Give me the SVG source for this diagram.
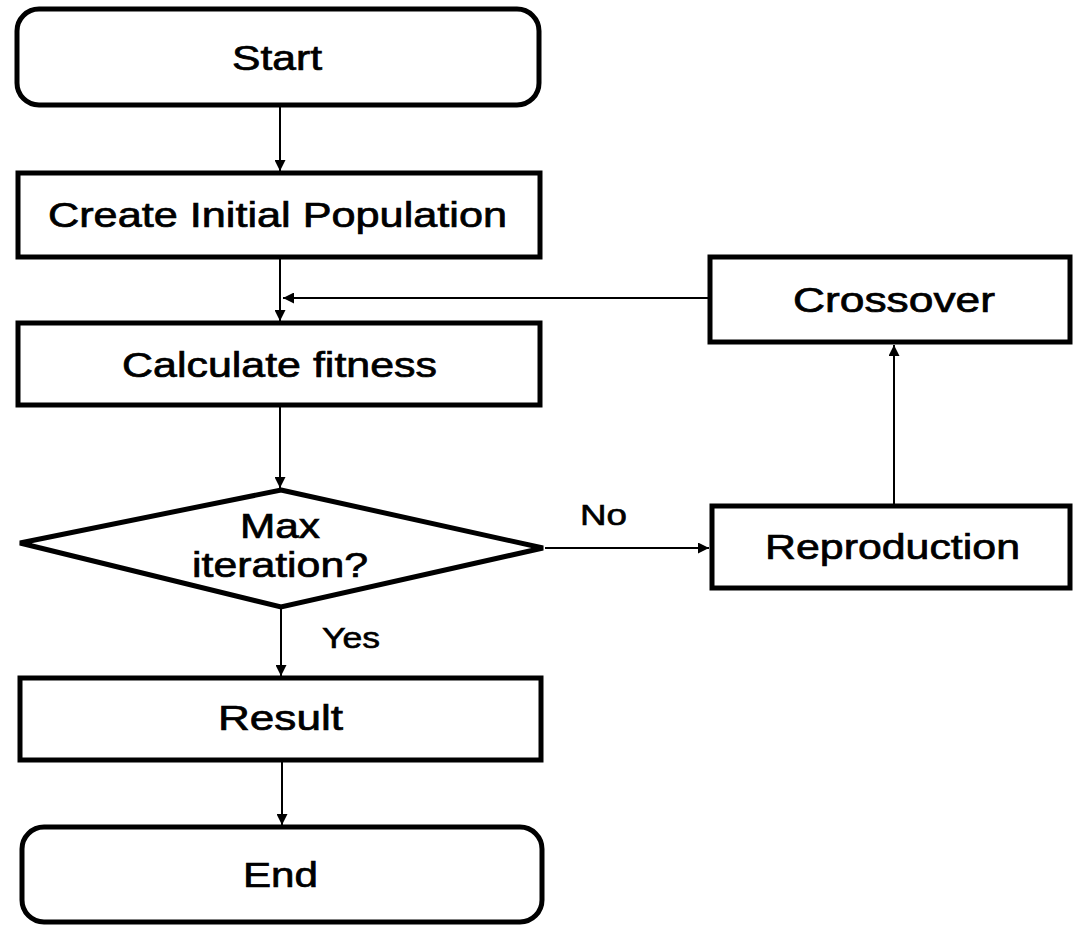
<svg xmlns="http://www.w3.org/2000/svg" width="1073" height="925" viewBox="0 0 1073 925">
<style>
.box{fill:#fff;stroke:#000;stroke-width:5}
.t{font-family:"Liberation Sans",Arial,sans-serif;font-size:35px;fill:#000;stroke:#000;stroke-width:0.7}
.s{font-family:"Liberation Sans",Arial,sans-serif;font-size:29px;fill:#000;stroke:#000;stroke-width:0.6}
.c{fill:none;stroke:#000;stroke-width:2}
</style>
<defs>
<marker id="ah" viewBox="0 0 10 10" refX="10" refY="5" markerWidth="11" markerHeight="11" markerUnits="userSpaceOnUse" orient="auto">
<path d="M0,0 L10,5 L0,10 z" fill="#000"/>
</marker>
</defs>
<rect width="1073" height="925" fill="#fff"/>
<g id="connectors">
<line class="c" x1="280" y1="106" x2="280" y2="171" marker-end="url(#ah)"/>
<line class="c" x1="280" y1="259" x2="280" y2="321" marker-end="url(#ah)"/>
<line class="c" x1="708" y1="298" x2="283" y2="298" marker-end="url(#ah)"/>
<line class="c" x1="280" y1="407" x2="280" y2="488" marker-end="url(#ah)"/>
<line class="c" x1="545" y1="548" x2="709" y2="548" marker-end="url(#ah)"/>
<line class="c" x1="894" y1="504" x2="894" y2="345" marker-end="url(#ah)"/>
<line class="c" x1="281" y1="609" x2="281" y2="676" marker-end="url(#ah)"/>
<line class="c" x1="282" y1="762" x2="282" y2="825" marker-end="url(#ah)"/>
<text class="s" x="580" y="525" textLength="47" lengthAdjust="spacingAndGlyphs">No</text>
<text class="s" x="322" y="648" textLength="58" lengthAdjust="spacingAndGlyphs">Yes</text>
</g>
<g id="start">
<rect class="box" x="17" y="9" width="522" height="96" rx="22"/>
<text class="t" x="232" y="70" textLength="90" lengthAdjust="spacingAndGlyphs">Start</text>
</g>
<g id="create">
<rect class="box" x="18" y="173" width="522" height="84"/>
<text class="t" x="48" y="227" textLength="459" lengthAdjust="spacingAndGlyphs">Create Initial Population</text>
</g>
<g id="fitness">
<rect class="box" x="18" y="323" width="522" height="82"/>
<text class="t" x="122" y="377" textLength="315" lengthAdjust="spacingAndGlyphs">Calculate fitness</text>
</g>
<g id="decision">
<polygon class="box" points="281,490 543,548 281,607 20,543"/>
<text class="t" x="240" y="538" textLength="80" lengthAdjust="spacingAndGlyphs">Max</text>
<text class="t" x="192" y="577" textLength="176" lengthAdjust="spacingAndGlyphs">iteration?</text>
</g>
<g id="result">
<rect class="box" x="20" y="678" width="521" height="82"/>
<text class="t" x="218" y="730" textLength="125" lengthAdjust="spacingAndGlyphs">Result</text>
</g>
<g id="end">
<rect class="box" x="22" y="827" width="520" height="95" rx="22"/>
<text class="t" x="243" y="887" textLength="75" lengthAdjust="spacingAndGlyphs">End</text>
</g>
<g id="crossover">
<rect class="box" x="710" y="257" width="360" height="85"/>
<text class="t" x="793" y="312" textLength="202" lengthAdjust="spacingAndGlyphs">Crossover</text>
</g>
<g id="reproduction">
<rect class="box" x="712" y="506" width="358" height="82"/>
<text class="t" x="765" y="559" textLength="255" lengthAdjust="spacingAndGlyphs">Reproduction</text>
</g>
</svg>
